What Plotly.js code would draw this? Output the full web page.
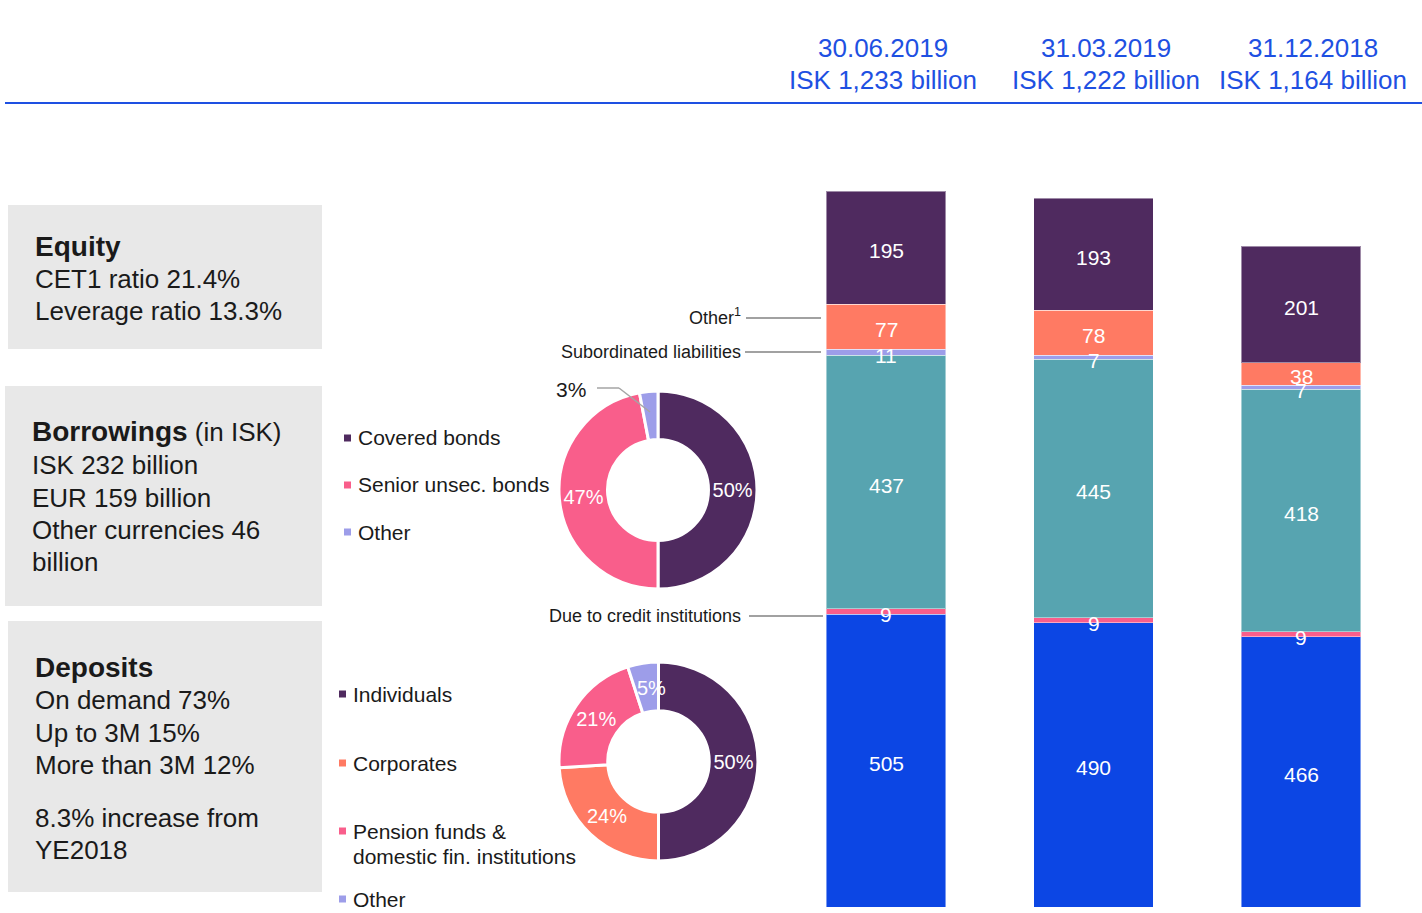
<!DOCTYPE html>
<html><head><meta charset="utf-8">
<script src="https://cdn.plot.ly/plotly-3.0.1.min.js"></script>
<style>html,body{margin:0;padding:0;background:#fff;}#chart{width:1422px;height:913px;}</style>
</head><body><div id="chart"></div>
<script>
// ---- data ----
const dates = ['30.06.2019', '31.03.2019', '31.12.2018'];
const totalLabels = ['ISK 1,233 billion', 'ISK 1,222 billion', 'ISK 1,164 billion'];
const deposits = [505, 490, 466];
const dueToCredit = [9, 9, 9];
const borrowings = [437, 445, 418];
const subordinated = [11, 7, 7];
const otherLiab = [77, 78, 38];
const equity = [195, 193, 201];

const borrowLabels = ['Covered bonds', 'Senior unsec. bonds', 'Other'];
const borrowShares = [50, 47, 3];
const depositLabels = ['Individuals', 'Corporates', 'Pension funds &<br>domestic fin. institutions', 'Other'];
const depositShares = [50, 24, 21, 5];

// ---- styles ----
const C = {
  blue: '#0C46E4', pink: '#F95E8B', teal: '#57A4B0', lav: '#9D9DE9',
  salmon: '#FF7A63', purple: '#4F2A5F', head: '#1E50E2', grey: '#E8E8E8', text: '#1a1a1a'
};
const W = 1422, H = 913;
const P = x => x / W;
const Q = y => 1 - y / H;
const FONT = 'Arial, "Liberation Sans", sans-serif';

const series = [
  {name: 'Deposits', v: deposits, c: C.blue},
  {name: 'Due to credit institutions', v: dueToCredit, c: C.pink},
  {name: 'Borrowings', v: borrowings, c: C.teal},
  {name: 'Subordinated liabilities', v: subordinated, c: C.lav},
  {name: 'Other', v: otherLiab, c: C.salmon},
  {name: 'Equity', v: equity, c: C.purple}
];
const xs = dates.map((d, i) => i);

const traces = series.map(s => ({
  type: 'bar', x: xs, y: s.v, name: s.name, width: 0.578,
  marker: {color: s.c, line: {color: 'rgba(255,255,255,0.45)', width: 1}},
  hoverinfo: 'skip', showlegend: false
}));

const annotations = [];
// bar value labels
const cum = xs.map(() => 0);
series.forEach(s => {
  s.v.forEach((v, i) => {
    annotations.push({x: i, y: cum[i] + v / 2, xref: 'x', yref: 'y', text: String(v),
      showarrow: false, yshift: -3, font: {color: '#fff', size: 21, family: FONT}});
    cum[i] += v;
  });
});

// pies
traces.push({
  type: 'pie', values: borrowShares, labels: borrowLabels, hole: 0.51, sort: false,
  direction: 'clockwise', rotation: 0,
  marker: {colors: [C.purple, C.pink, C.lav], line: {color: '#fff', width: 3}},
  textinfo: 'percent', textposition: ['inside', 'inside', 'none'],
  insidetextorientation: 'horizontal', textfont: {color: '#fff', size: 20, family: FONT},
  domain: {x: [P(559), P(757)], y: [Q(589), Q(391)]}, showlegend: false, hoverinfo: 'none'
});
traces.push({
  type: 'pie', values: depositShares, labels: depositLabels, hole: 0.51, sort: false,
  direction: 'clockwise', rotation: 0,
  marker: {colors: [C.purple, C.salmon, C.pink, C.lav], line: {color: '#fff', width: 3}},
  textinfo: 'percent', textposition: ['inside', 'inside', 'inside', 'none'],
  insidetextorientation: 'horizontal', textfont: {color: '#fff', size: 20, family: FONT},
  domain: {x: [P(559), P(758)], y: [Q(861), Q(662)]}, showlegend: false, hoverinfo: 'none'
});

function txt(x, y, text, o) {
  o = o || {};
  annotations.push({x: P(x), y: Q(y), xref: 'paper', yref: 'paper', text: text, showarrow: false,
    xanchor: o.xa || 'left', yanchor: 'middle', align: o.xa || 'left',
    font: {color: o.color || C.text, size: o.size || 26, family: FONT}});
}

// header
const headX = [883, 1106, 1313];
dates.forEach((d, i) => {
  txt(headX[i], 48, d, {xa: 'center', color: C.head, size: 26});
  txt(headX[i], 80, totalLabels[i], {xa: 'center', color: C.head, size: 26});
});

// left boxes
const B = s => '<b><span style="font-size:28px">' + s + '</span></b>';
txt(33, 246, B('Equity'));
txt(33, 279, 'CET1 ratio 21.4%');
txt(33, 311, 'Leverage ratio 13.3%');
txt(30, 432, B('Borrowings') + ' (in ISK)');
txt(30, 465, 'ISK 232 billion');
txt(30, 498, 'EUR 159 billion');
txt(30, 530, 'Other currencies 46');
txt(30, 562, 'billion');
txt(33, 667, B('Deposits'));
txt(33, 700, 'On demand 73%');
txt(33, 733, 'Up to 3M 15%');
txt(33, 765, 'More than 3M 12%');
txt(33, 818, '8.3% increase from');
txt(33, 850, 'YE2018');

// pie legends
const shapes = [];
function sq(x, y, col) {
  shapes.push({type: 'rect', xref: 'paper', yref: 'paper', x0: P(x), x1: P(x + 7), y0: Q(y + 3.5), y1: Q(y - 3.5),
    fillcolor: col, line: {width: 0}});
}
const bCols = [C.purple, C.pink, C.lav];
const bY = [438, 485, 532];
borrowLabels.forEach((l, i) => { sq(344, bY[i], bCols[i]); txt(356, bY[i], l, {size: 21}); });
const dCols = [C.purple, C.salmon, C.pink, C.lav];
const dY = [694, 763, 831, 899];
depositLabels.forEach((l, i) => {
  sq(339, dY[i], dCols[i]);
  const parts = l.split('<br>');
  parts.forEach((p, k) => txt(351, dY[i] + k * 25, p, {size: 21}));
});

// pie extra labels
txt(571, 389, borrowShares[2] + '%', {xa: 'center', size: 21});
txt(651, 688, depositShares[3] + '%', {xa: 'center', size: 20, color: '#fff'});

// bar leader labels
txt(743, 316, 'Other<sup>1</sup>', {xa: 'right', size: 18});
txt(743, 352, 'Subordinated liabilities', {xa: 'right', size: 18});
txt(743, 616, 'Due to credit institutions', {xa: 'right', size: 18});

function line(x0, y0, x1, y1, col, w) {
  shapes.push({type: 'line', xref: 'paper', yref: 'paper', x0: P(x0), y0: Q(y0), x1: P(x1), y1: Q(y1),
    line: {color: col, width: w}});
}
line(746, 318, 821, 318, '#444', 1.2);
line(745, 352, 821, 352, '#444', 1.2);
line(749, 616, 823, 616, '#444', 1.2);
line(5, 103, 1422, 103, C.head, 2);
line(597, 388, 619, 388, '#A5A5A5', 1.5);
line(619, 388, 650, 412, '#A5A5A5', 1.5);

// grey boxes (inserted first)
const boxes = [[8, 205, 322, 349], [5, 386, 322, 606], [8, 621, 322, 892]];
boxes.reverse().forEach(b => shapes.unshift({type: 'rect', xref: 'paper', yref: 'paper', layer: 'below',
  x0: P(b[0]), x1: P(b[2]), y0: Q(b[3]), y1: Q(b[1]), fillcolor: C.grey, line: {width: 0}}));

const layout = {
  width: W, height: H, margin: {l: 0, r: 0, t: 0, b: 0},
  paper_bgcolor: '#fff', plot_bgcolor: 'rgba(0,0,0,0)',
  font: {family: FONT},
  barmode: 'stack', showlegend: false,
  xaxis: {domain: [P(782.25), P(1404.75)], range: [-0.5, 2.5], visible: false, fixedrange: true},
  yaxis: {domain: [6 / H, 1], range: [0, 907 / 0.58], visible: false, fixedrange: true},
  annotations: annotations, shapes: shapes
};
Plotly.newPlot('chart', traces, layout, {displayModeBar: false, staticPlot: true});
</script>
</body></html>
